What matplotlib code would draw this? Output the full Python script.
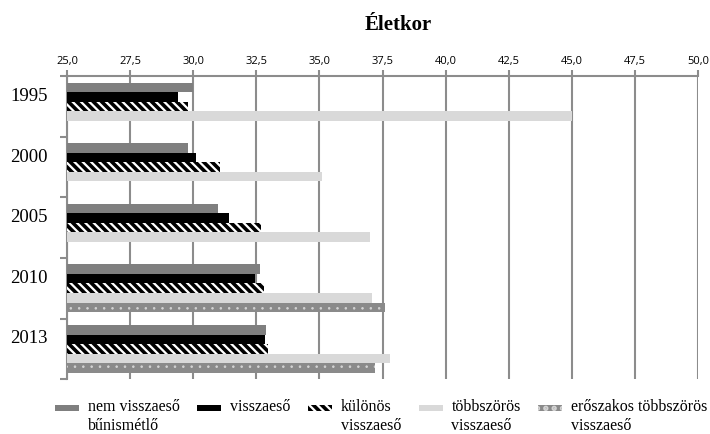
import numpy as np
import matplotlib.pyplot as plt
import matplotlib.ticker as mticker
from matplotlib.patches import Rectangle
from matplotlib.container import BarContainer
from matplotlib.legend_handler import HandlerPatch, update_from_first_child

evek = ['1995', '2000', '2005', '2010', '2013']
nem_visszaeso = [30.0, 29.8, 31.0, 32.65, 32.9]
visszaeso = [29.4, 30.1, 31.4, 32.45, 32.85]
kulonos = [29.8, 31.05, 32.7, 32.8, 32.95]
tobbszoros = [45.0, 35.1, 37.0, 37.1, 37.8]
eroszakos = [np.nan, np.nan, np.nan, 37.6, 37.2]

cimkek = ['nem visszaeső\nbűnismétlő', 'visszaeső', 'különös\nvisszaeső',
          'többszörös\nvisszaeső', 'erőszakos többszörös\nvisszaeső']

plt.rcParams['hatch.linewidth'] = 2.6

fig = plt.figure(figsize=(7.1, 4.35), dpi=100)
ax = fig.add_axes([0.0944, 0.126, 0.8887, 0.697])

y = np.arange(len(evek))
h = 0.157
alap = 25.0
sorozatok = [
    (nem_visszaeso, dict(color='#7f7f7f')),
    (visszaeso, dict(color='black')),
    (kulonos, dict(facecolor='white', edgecolor='black', hatch='\\\\\\\\', linewidth=0)),
    (tobbszoros, dict(color='#d9d9d9')),
    (eroszakos, dict(facecolor='#8a8a8a', edgecolor='#d4d4d4', hatch='..', linewidth=0)),
]
for i, (ertek, stilus) in enumerate(sorozatok):
    ertek = np.array(ertek)
    bars = ax.barh(y + (i - 2) * h, ertek - alap, left=alap, height=h,
                   label=cimkek[i], zorder=3, **stilus)
    if i == 4:
        # apró pöttyök a mintában
        for b in bars:
            b.set_hatch_linewidth(0.6)

ax.set_xlim(25, 50)
ax.set_ylim(len(evek) - 0.5, -0.5)
ax.xaxis.set_major_locator(mticker.MultipleLocator(2.5))
ax.xaxis.set_major_formatter(mticker.FuncFormatter(lambda v, p: f'{v:.1f}'.replace('.', ',')))
ax.xaxis.tick_top()
ax.tick_params(axis='x', direction='out', length=4, width=1.5, color='#8c8c8c',
               labelsize=8, pad=3)
for t in ax.get_xticklabels():
    t.set_fontfamily('Open Sans')
ax.grid(axis='x', color='#8c8c8c', linewidth=1.5, zorder=0)

ax.set_yticks([])
ax.set_yticks(np.arange(-0.5, len(evek) + 0.5), minor=True)
ax.tick_params(axis='y', which='minor', direction='out', length=5, width=1.5,
               color='#8c8c8c', labelleft=False)
for i, ev in enumerate(evek):
    ax.text(-0.03, y[i] - 0.18, ev, transform=ax.get_yaxis_transform(),
            ha='right', va='center', fontsize=13.5, family='Liberation Serif')

for s in ['right', 'bottom']:
    ax.spines[s].set_visible(False)
for s in ['top', 'left']:
    ax.spines[s].set_color('#8c8c8c')
    ax.spines[s].set_linewidth(1.5)

fig.text(0.561, 0.942, 'Életkor', ha='center', va='center', fontsize=15,
         fontweight='bold', family='Liberation Serif')


def also_teglalap(legend, orig_handle, xdescent, ydescent, width, height, fontsize):
    # a jelölő a doboz alsó felében, így az első sor mellé kerül
    return Rectangle((-xdescent, -ydescent), width, height * 0.48)


leg = fig.legend(loc='upper left', bbox_to_anchor=(0.0775, 0.083), ncol=5, frameon=False,
                 prop={'family': 'Liberation Serif', 'size': 11.5}, handlelength=1.5,
                 handleheight=0.9, columnspacing=1.1, handletextpad=0.55,
                 borderpad=0.0, borderaxespad=0.0,
                 handler_map={BarContainer: HandlerPatch(patch_func=also_teglalap,
                                                         update_func=update_from_first_child)})
for t in leg.get_texts():
    t.set_linespacing(1.3)
leg._legend_handle_box.align = 'top'
for oszlop in leg._legend_handle_box.get_children():
    oszlop.align = 'left'
    for elem in oszlop.get_children():
        elem.align = 'top'

fig.savefig('out.png', dpi=100)
